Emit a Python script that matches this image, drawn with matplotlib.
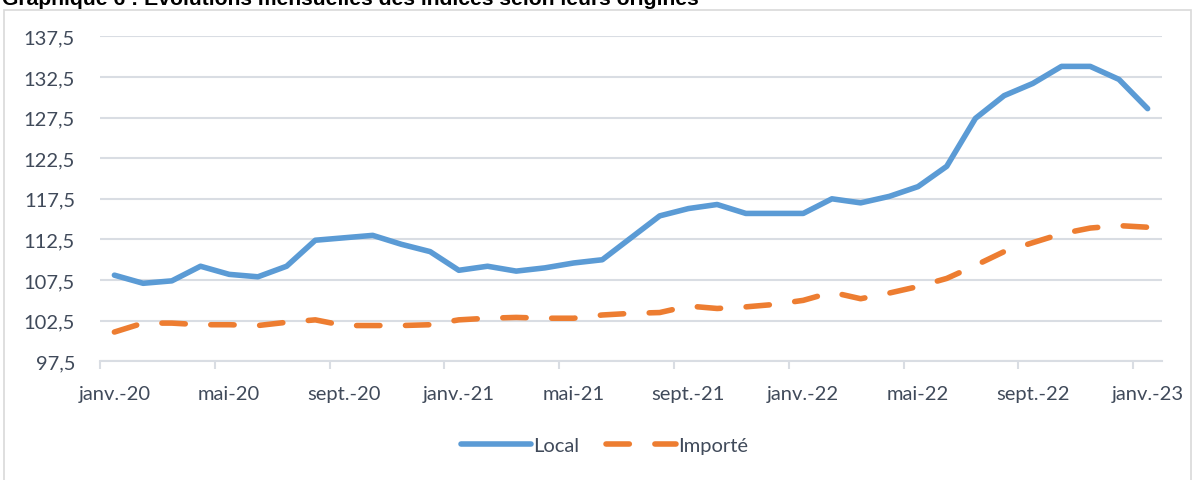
import numpy as np
import matplotlib.pyplot as plt
from matplotlib.patches import Rectangle

# monthly index values, janv.-20 .. janv.-23
months = ['janv.', 'févr.', 'mars', 'avr.', 'mai', 'juin', 'juil.', 'août',
          'sept.', 'oct.', 'nov.', 'déc.']
years = ['20', '21', '22', '23']
labels = [m + '-' + y for y in years for m in months][:37]

local = [108.1, 107.1, 107.4, 109.2, 108.2, 107.9, 109.2, 112.4, 112.7, 113.0,
         111.9, 111.0, 108.7, 109.2, 108.6, 109.0, 109.6, 110.0, 112.7, 115.4,
         116.3, 116.8, 115.7, 115.7, 115.7, 117.5, 117.0, 117.8, 119.0, 121.5,
         127.4, 130.2, 131.7, 133.8, 133.8, 132.2, 128.6]
importe = [101.1, 102.2, 102.2, 102.0, 102.0, 101.9, 102.3, 102.6, 101.9, 101.9,
           101.9, 102.0, 102.6, 102.8, 102.9, 102.8, 102.8, 103.2, 103.4, 103.5,
           104.3, 104.0, 104.2, 104.5, 105.0, 106.0, 105.2, 105.9, 106.7, 107.7,
           109.3, 111.0, 112.1, 113.2, 113.9, 114.2, 114.0]

yticks = [97.5, 102.5, 107.5, 112.5, 117.5, 122.5, 127.5, 132.5, 137.5]

txt = '#404a5a'
grid = '#d9dde3'
plt.rcParams['font.family'] = ['Lato', 'DejaVu Sans']

fig = plt.figure(figsize=(12.04, 4.81), dpi=100)
ax = fig.add_axes([0.0831, 0.2468, 0.8820, 0.6756])

# chart frame and title (title is cropped at the top, as in the source)
fig.patches.append(Rectangle((0.003, -0.1), 0.986, 1.078, transform=fig.transFigure,
                             fill=False, edgecolor='#d9d9d9', linewidth=1.2))
fig.text(0.002, 0.9886, 'Graphique 6 : Evolutions mensuelles des indices selon leurs origines',
         family='Liberation Sans', weight='bold', fontsize=15.2, color='black',
         ha='left', va='baseline')

x = np.arange(len(local))
ax.plot(x, local, color='#5b9bd5', linewidth=4.0, solid_capstyle='round',
        solid_joinstyle='round', label='Local')
ax.plot(x, importe, color='#ed7d31', linewidth=4.0, dashes=(4.2, 4.6),
        dash_capstyle='round', label='Importé')

ax.set_xlim(-0.5, 36.5)
ax.set_ylim(97.5, 137.5)
ax.set_yticks(yticks)
ax.set_yticklabels([('%.1f' % v).replace('.', ',') for v in yticks])
ax.set_xticks(x[::4])
ax.set_xticklabels(labels[::4])
ax.set_xticks(np.arange(-0.5, 36, 4), minor=True)
ax.tick_params(axis='x', which='major', length=0, pad=17, labelsize=14.5, colors=txt)
ax.tick_params(axis='x', which='minor', length=6, width=1.5, color=grid, direction='out')
ax.tick_params(axis='y', length=0, pad=18, labelsize=14.5, colors=txt)

ax.grid(axis='y', color=grid, linewidth=1.5)
ax.set_axisbelow(True)
for s in ['top', 'right', 'left']:
    ax.spines[s].set_visible(False)
ax.spines['bottom'].set_color(grid)
ax.spines['bottom'].set_linewidth(1.5)

fig.legend(loc='center', bbox_to_anchor=(0.502, 0.071), ncol=2, frameon=False,
           fontsize=14.5, labelcolor=txt, handlelength=3.5, handletextpad=0.1,
           columnspacing=1.3)

fig.savefig('out.png', dpi=100)
